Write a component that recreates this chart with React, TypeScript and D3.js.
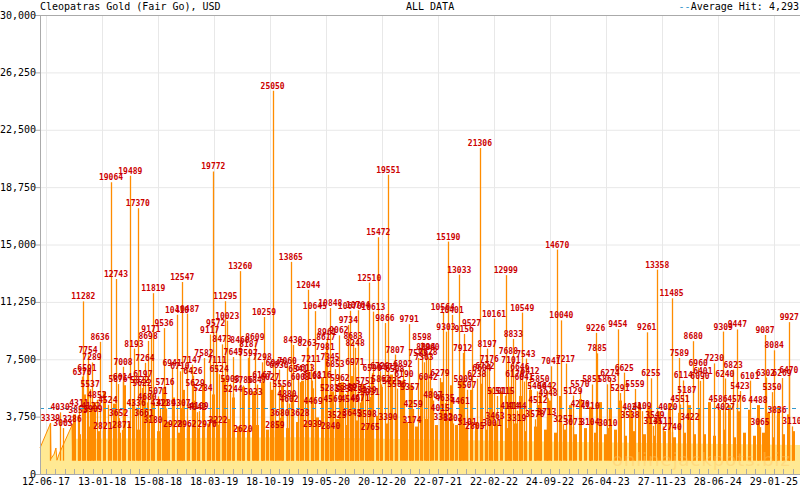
import React from 'react';
import * as d3 from 'd3';

const W = 800;
const H = 490;
const TITLE = 'Cleopatras Gold (Fair Go), USD';
const SUBTITLE = 'ALL DATA';
const AVERAGE = 4293;
const SEED = 870;
const START = '12-06-17';
const DOMAIN = ['20-05-17', '09-05-25'];

const xTickLabels = [
  '12-06-17', '13-01-18', '15-08-18', '18-03-19', '18-10-19', '19-05-20', '20-12-20',
  '22-07-21', '22-02-22', '24-09-22', '26-04-23', '27-11-23', '28-06-24', '29-01-25',
];
const yTicks = [0, 3750, 7500, 11250, 15000, 18750, 22500, 26250, 30000];

// jackpot level (light fill), [days since start, value]
const levelSeries: [number, number][] = [
  [-23, 1700], [17, 3300], [19, 1000], [31, 1300], [38, 1700], [42, 900], [50, 1300],
  [100, 3200], [102, 1100], [107, 2300], [973, 2400], [1969, 2100], [2888, 1900],
];

// dense body of small hits, sampled every 19 days from day 107
const massStart = 107;
const massStep = 19;
const massValues = [
  3900, 2600, 5200, 3100, 4700, 2800,
  5400, 3000, 4600, 2700, 5800, 3300, 4900, 2900, 5300, 3600,
  4700, 2800, 5600, 3400, 5000, 2700, 5500, 3200, 4800, 3000,
  5900, 3300, 5200, 2800, 6300, 3600, 5000, 3100, 5700, 2900,
  5400, 3200, 6000, 2900, 5500, 3500, 5800, 3000, 5200, 3400,
  6100, 3300, 5600, 3700, 6300, 3100, 5400, 3600, 6000, 3200,
  6400, 3500, 5900, 3200, 6200, 3800, 5700, 3300, 6500, 3600,
  6100, 3400, 5800, 3100, 6300, 3600, 5600, 3200, 6000, 3500,
  5800, 3200, 6100, 3000, 5500, 3400, 5900, 2900, 5600, 3300,
  5400, 3000, 5700, 3300, 5100, 2800, 5500, 3100, 5200, 2900,
  4800, 2700, 5100, 2900, 4500, 2600, 4900, 3000, 4400, 2700,
  4700, 2600, 4300, 2900, 4800, 2500, 4200, 2800, 4600, 2600,
  4400, 2500, 4100, 2800, 4600, 2400, 4000, 2700, 4500, 2600,
  4300, 2600, 4700, 2500, 4200, 2900, 4500, 2400, 4100, 2700,
  4200, 2500, 4500, 2700, 4000, 2400, 4400, 2600, 3900, 2800,
];

// labelled hits: [days since start, amount]
const hits: [number, number][] = [
  [17, 3339], [54, 4030], [65, 3003], [100, 3286], [123, 3853], [126, 4311], [138, 6370],
  [143, 11282], [157, 6591], [161, 7754], [169, 5537], [172, 4122], [176, 7289], [180, 3909],
  [195, 4852], [207, 8636], [218, 2821], [237, 4524], [249, 19064], [268, 12743], [276, 5876],
  [278, 3652], [291, 2871], [293, 6014], [295, 7008], [323, 19489], [337, 8193], [345, 4336],
  [352, 17370], [360, 5822], [368, 5622], [371, 6197], [379, 7264], [391, 8698], [402, 9171],
  [411, 11819], [429, 5071], [452, 9536], [456, 5716],
  [387, 4680], [437, 4311], [517, 4307], [578, 4042], [460, 4289], [586, 4109], [375, 3661],
  [410, 3180], [486, 2928], [540, 2962], [617, 2970], [659, 3222], [571, 5629], [601, 5284],
  [716, 5244], [793, 5033], [808, 5847], [904, 5556], [923, 4880], [931, 4602], [754, 2620],
  [877, 2859], [896, 3680], [973, 3628], [705, 5908], [756, 5786], [827, 6167], [858, 6027],
  [563, 6426], [663, 6524], [878, 6947], [924, 7060], [892, 6830], [965, 6541], [992, 6613],
  [1015, 7211], [1088, 7345], [1107, 6853], [1183, 6971], [605, 7582], [655, 7111], [717, 7645],
  [774, 7597], [828, 7298], [559, 7147], [483, 6941], [513, 6710], [674, 8473], [743, 8460],
  [800, 8609], [777, 8187], [946, 8430], [1000, 8263], [1072, 8617], [1069, 7981], [1176, 8683],
  [1184, 8248], [1337, 7807], [1367, 6892],
  [522, 12547], [502, 10410], [541, 10487], [641, 19772], [744, 13260], [687, 11295],
  [694, 10023], [650, 9572], [627, 9117], [868, 25050], [835, 10259], [938, 13865],
  [1005, 12044], [1030, 10645], [1089, 10848], [1076, 8961], [1122, 9062], [1158, 9734],
  [1164, 10670], [1195, 10704], [1254, 10613], [1238, 12510], [1273, 15472], [1311, 19551],
  [1298, 9866], [1391, 9791], [1425, 7583], [1440, 8598], [1455, 8004], [1463, 7628],
  [1471, 7960], [1448, 7303],
  [1023, 4469], [1086, 5283], [1099, 4569], [1153, 5389], [1145, 5237], [1165, 4545],
  [1194, 5275], [1203, 4671], [1229, 5139], [1241, 5031], [1344, 5586], [1114, 3525],
  [1172, 3645], [1230, 3598], [1021, 2939], [1090, 2840], [1242, 2765], [1310, 3390],
  [974, 6003], [1019, 6108], [1057, 6116], [1126, 5962], [1222, 5751], [1283, 5862],
  [1325, 5725], [1249, 6590], [1279, 6720], [1309, 6672], [1336, 6508], [1394, 5357],
  [1406, 4259], [1371, 6190],
  [1520, 10564], [1532, 9303], [1541, 15190], [1554, 10401], [1583, 13033], [1596, 7912],
  [1602, 9156], [1630, 9527], [1650, 6238], [1662, 21306], [1681, 6722], [1690, 8197],
  [1698, 7176], [1716, 10161], [1761, 12999], [1771, 7688], [1781, 7101], [1790, 8833],
  [1824, 10549], [1838, 7543], [1934, 7041], [1958, 14670], [1974, 10040], [1990, 7217],
  [1464, 6042], [1509, 6279], [1612, 5507], [1670, 6604], [1598, 5909], [1796, 6178],
  [1815, 6646], [1854, 6412], [1831, 6041], [1892, 5850], [1880, 5406], [1919, 5442],
  [2091, 5851], [2045, 5570], [2149, 5863], [2198, 5291], [2256, 5559], [1727, 5101],
  [1758, 5115], [2018, 5129], [1482, 4807], [1528, 4635], [1923, 4948], [1884, 4512],
  [1586, 4461], [1510, 4015], [1777, 4114], [1804, 4144], [2046, 4270], [2084, 4110],
  [2244, 4024], [2283, 4109], [2382, 4020], [2601, 4027], [2574, 4586], [2727, 4488],
  [2646, 4576], [2428, 4551], [2455, 5187], [2658, 5423], [2781, 5350], [2800, 3836],
  [1402, 3174], [1521, 3382], [1559, 3302], [1613, 3101], [1643, 2805], [1720, 3463],
  [1708, 3001], [1803, 3319], [1873, 3578], [1918, 3713], [1980, 3257], [2019, 3073],
  [2083, 3104], [2152, 3010], [2237, 3538], [2325, 3145], [2332, 3549], [2398, 2740],
  [2466, 3422], [2735, 3065], [2857, 3110], [2363, 3111],
  [2105, 9226], [2111, 7885], [2160, 6274], [2190, 9454], [2215, 6625], [2301, 9261],
  [2317, 6255], [2341, 13358], [2396, 11485], [2426, 7589], [2441, 6114], [2479, 8680],
  [2498, 6960], [2516, 6401], [2505, 6090], [2560, 7230], [2594, 9309], [2600, 6240],
  [2632, 6823], [2648, 9447], [2696, 6101], [2754, 9087], [2756, 6302], [2789, 8084],
  [2847, 9927], [2845, 6470], [2819, 6269],
];

const MONO = '"DejaVu Sans Mono", "Liberation Mono", monospace';
const ORANGE = '#ff8c00';
const YELLOW = '#ffe993';
const GRID = '#e8e8e8';
const AXIS = '#aaaaaa';

export default function App() {
  const parse = d3.timeParse('%d-%m-%y');
  const start = parse(START) as Date;
  const day = (n: number) => d3.timeDay.offset(start, n);

  const x = d3
    .scaleTime()
    .domain([parse(DOMAIN[0]) as Date, parse(DOMAIN[1]) as Date])
    .range([40, 800]);
  const y = d3.scaleLinear().domain([0, 30000]).range([474, 15]);

  const majors = xTickLabels.map((s) => parse(s) as Date);
  const minors: Date[] = [];
  for (let i = 0; i < majors.length; i++) {
    const a = majors[i].getTime();
    const b = i < majors.length - 1 ? majors[i + 1].getTime() : a + (a - majors[i - 1].getTime());
    for (let k = 0; k < 6; k++) minors.push(new Date(a + ((b - a) * k) / 6));
  }

  const area = d3
    .area<[number, number]>()
    .x((d) => x(day(d[0])))
    .y0(y(0))
    .y1((d) => y(d[1]));

  const seedY = y(SEED);

  return (
    <svg
      width={W}
      height={H}
      style={{ position: 'absolute', left: 0, top: 0, background: '#fff' }}
      xmlns="http://www.w3.org/2000/svg"
    >
      <rect x={0} y={0} width={W} height={H} fill="#fff" />
      {/* grid */}
      {yTicks.map((t) => (
        <line key={'gy' + t} x1={40} x2={800} y1={y(t) + 0.5} y2={y(t) + 0.5} stroke={GRID} />
      ))}
      {majors.map((d, i) => (
        <line
          key={'gx' + i}
          x1={Math.round(x(d)) + 0.5}
          x2={Math.round(x(d)) + 0.5}
          y1={15}
          y2={474}
          stroke={GRID}
        />
      ))}
      {/* jackpot level fill */}
      <path d={area(levelSeries) || ''} fill={YELLOW} stroke="none" />
      <rect x={40} y={seedY} width={760} height={y(0) - seedY} fill={YELLOW} />
      <path
        d={
          d3
            .line<[number, number]>()
            .x((d) => x(day(d[0])))
            .y((d) => y(d[1]))(levelSeries.slice(0, 10)) || ''
        }
        fill="none"
        stroke={ORANGE}
        strokeWidth={1}
      />
      {/* dense body */}
      {massValues.map((v, i) => {
        const cx = x(day(massStart + i * massStep));
        return (
          <rect
            key={'m' + i}
            x={Math.round(cx) - 1}
            y={y(v)}
            width={3}
            height={seedY - y(v)}
            fill={ORANGE}
          />
        );
      })}
      {/* hits */}
      {hits.map(([d, v], i) => {
        const cx = Math.round(x(day(d))) + 0.5;
        return (
          <line
            key={'h' + i}
            x1={cx}
            x2={cx}
            y1={seedY}
            y2={y(v)}
            stroke={ORANGE}
            strokeWidth={1.3}
          />
        );
      })}
      {/* watermark */}
      <text
        x={612}
        y={466}
        fontFamily='"DejaVu Sans", sans-serif'
        fontSize={18}
        fill="#ffc864"
        opacity={0.4}
        textLength={178}
      >
        onlinejackpots.biz
      </text>
      {/* average */}
      <line
        x1={40}
        x2={800}
        y1={Math.round(y(AVERAGE)) + 0.5}
        y2={Math.round(y(AVERAGE)) + 0.5}
        stroke="#3399cc"
        strokeDasharray="4,4"
      />
      {/* axes */}
      <line x1={40.5} x2={40.5} y1={15} y2={474} stroke={AXIS} />
      <line x1={40} x2={800} y1={15.5} y2={15.5} stroke={AXIS} />
      <line x1={40} x2={800} y1={474.5} y2={474.5} stroke={AXIS} />
      {yTicks.map((t) => (
        <line key={'ty' + t} x1={35} x2={40} y1={y(t) + 0.5} y2={y(t) + 0.5} stroke={AXIS} />
      ))}
      {minors
        .filter((d) => x(d) <= 800)
        .map((d, i) => (
          <line
            key={'tm' + i}
            x1={Math.round(x(d)) + 0.5}
            x2={Math.round(x(d)) + 0.5}
            y1={469}
            y2={474}
            stroke={AXIS}
          />
        ))}
      {yTicks.map((t) => (
        <text
          key={'ly' + t}
          x={36}
          y={y(t)}
          dy="0.35em"
          textAnchor="end"
          fontFamily={MONO}
          fontSize={10}
          fill="#000"
        >
          {d3.format(',')(t)}
        </text>
      ))}
      {majors.map((d, i) => (
        <text
          key={'lx' + i}
          x={x(d)}
          y={485}
          textAnchor="middle"
          fontFamily={MONO}
          fontSize={10}
          fill="#000"
        >
          {xTickLabels[i]}
        </text>
      ))}
      {/* hit labels */}
      {hits.map(([d, v], i) => (
        <text
          key={'hl' + i}
          x={x(day(d))}
          y={y(v) - 2}
          textAnchor="middle"
          fontFamily={MONO}
          fontSize={8}
          fontWeight="bold"
          fill="#cc0000"
        >
          {v}
        </text>
      ))}
      {/* titles */}
      <text x={40} y={10} fontFamily={MONO} fontSize={10} fill="#000">
        {TITLE}
      </text>
      <text x={406} y={10} fontFamily={MONO} fontSize={10} fill="#000">
        {SUBTITLE}
      </text>
      <text x={799} y={10} textAnchor="end" fontFamily={MONO} fontSize={10} fill="#000">
        <tspan fill="#3399cc">--</tspan>
        {'Average Hit: ' + d3.format(',')(AVERAGE)}
      </text>
    </svg>
  );
}
